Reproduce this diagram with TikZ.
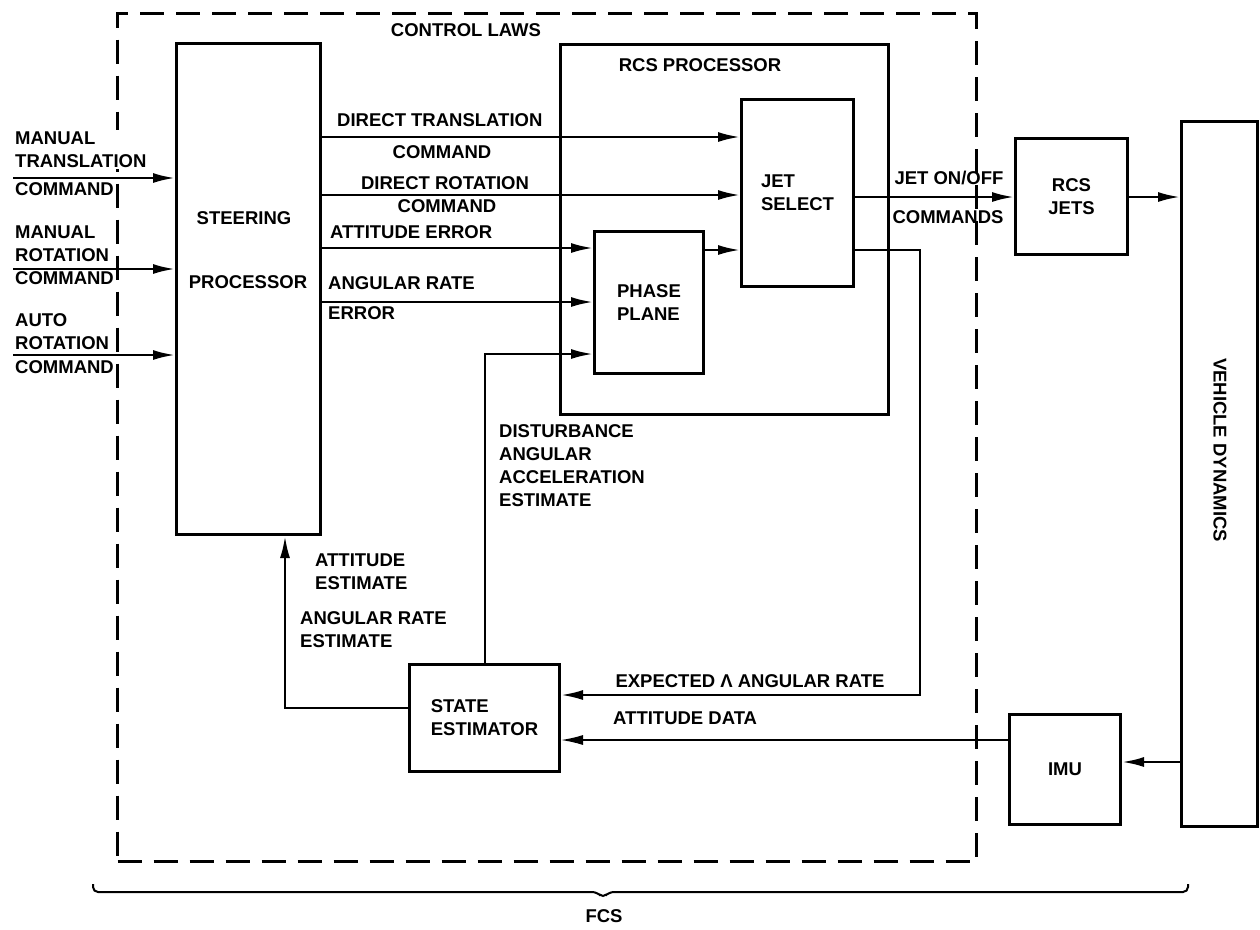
\documentclass[tikz,border=0pt]{standalone}
\usepackage{fontspec}
\setmainfont{Liberation Sans}
\usetikzlibrary{arrows.meta}
\begin{document}
\begin{tikzpicture}[x=1pt,y=-1pt,
  every node/.style={font=\fontsize{18.5}{23}\selectfont\bfseries},
  box/.style={draw,line width=3pt,inner sep=0pt,anchor=north west,align=center},
  lbl/.style={inner sep=0pt,align=left},
  wlbl/.style={inner sep=1.5pt,align=left,fill=white},
  arr/.style={line width=2.4pt,-{Latex[length=22pt,width=10pt]}},
  thinarr/.style={line width=1.5pt,-{Latex[length=22pt,width=10pt]}},
]
\useasboundingbox (0,0) rectangle (1260,929);

% control laws frame
\node[draw,line width=3pt,dash pattern=on 24pt off 12pt,inner sep=0pt,anchor=north west,
      minimum width=859pt,minimum height=848pt] (cl) at (116,12) {};

% blocks
\node[box,minimum width=144pt,minimum height=491pt] (steer) at (175,42) {};
\node[lbl] (steert1) at (244,218) {STEERING};
\node[lbl] (steert2) at (248,282) {PROCESSOR};
\node[box,minimum width=328pt,minimum height=370pt] (rcsp) at (559,43) {};
\node[lbl] (rcspt) at (700,65) {RCS PROCESSOR};
\node[lbl] (clt) at (466,30) {CONTROL LAWS};
\node[box,align=left,minimum width=112pt,minimum height=187pt] (jet) at (740,98) {JET\\SELECT};
\node[box,align=left,minimum width=109pt,minimum height=142pt] (pp) at (593,230) {PHASE\\PLANE};
\node[box,align=left,minimum width=150pt,minimum height=107pt] (se) at (408,663) {STATE\\ESTIMATOR};
\node[box,minimum width=112pt,minimum height=116pt] (jets) at (1014,137) {RCS\\JETS};
\node[box,minimum width=76pt,minimum height=705pt] (vd) at (1180,120) {};
\node[lbl,rotate=-90] (vdt) at (1220,450) {VEHICLE DYNAMICS};
\node[box,minimum width=111pt,minimum height=110pt] (imu) at (1008,713) {IMU};

% input commands
\coordinate (in1) at (13,178);
\coordinate (in2) at (13,269);
\coordinate (in3) at (13,355);
\node[wlbl,anchor=north west] (l1a) at (13.5,130) {MANUAL\\TRANSLATION};
\node[wlbl,anchor=west] (l1b) at (13.5,189) {COMMAND};
\node[wlbl,anchor=north west] (l2a) at (13.5,224) {MANUAL\\ROTATION};
\node[wlbl,anchor=west] (l2b) at (13.5,278) {COMMAND};
\node[wlbl,anchor=north west] (l3a) at (13.5,312) {AUTO\\ROTATION};
\node[wlbl,anchor=west] (l3b) at (13.5,367) {COMMAND};
\draw[arr] (in1) -- (in1 -| steer.west);
\draw[arr] (in2) -- (in2 -| steer.west);
\draw[arr] (in3) -- (in3 -| steer.west);

% y levels
\coordinate (ydt) at (0,137);
\coordinate (ydr) at (0,195);
\coordinate (yae) at (0,248);
\coordinate (yar) at (0,302);
\coordinate (yjo) at (0,197);
\coordinate (yex) at (0,250);
\coordinate (yad) at (0,740);
\coordinate (yimu) at (0,762);

% steering -> rcs processor
\draw[arr] (steer.east |- ydt) -- (jet.west |- ydt);
\node[lbl,anchor=west] (tdt) at (337,120) {DIRECT TRANSLATION};
\node[lbl] (tdtc) at (442,152) {COMMAND};
\draw[arr] (steer.east |- ydr) -- (jet.west |- ydr);
\node[lbl] (tdr) at (445,183) {DIRECT ROTATION};
\node[lbl] (tdrc) at (447,206) {COMMAND};
\draw[arr] (steer.east |- yae) -- (pp.west |- yae);
\node[lbl,anchor=west] (tae) at (330,232) {ATTITUDE ERROR};
\draw[arr] (steer.east |- yar) -- (pp.west |- yar);
\node[lbl,anchor=west] (tar) at (328,283) {ANGULAR RATE};
\node[lbl,anchor=west] (tare) at (328,313) {ERROR};

% phase plane -> jet select
\draw[arr] (pp.east |- yex) -- (jet.west |- yex);

% jet select -> rcs jets -> vehicle dynamics
\draw[arr] (jet.east |- yjo) -- (jets.west |- yjo);
\node[lbl] (tjo) at (949,178) {JET ON/OFF};
\node[lbl] (tjoc) at (948,217) {COMMANDS};
\draw[arr] (jets.east |- yjo) -- (vd.west |- yjo);

% vehicle dynamics -> IMU -> state estimator
\draw[arr] (vd.west |- yimu) -- (imu.east |- yimu);
\draw[thinarr] (imu.west |- yad) -- (se.east |- yad);
\node[lbl,anchor=west] (tad) at (613,718) {ATTITUDE DATA};

% expected delta angular rate
\coordinate (ex1) at (920,250);
\coordinate (ex2) at (920,695);
\draw[arr] (jet.east |- ex1) -- (ex1) -- (ex2) -- (se.east |- ex2);
\node[lbl] (tex) at (750,681) {EXPECTED Λ ANGULAR RATE};

% disturbance estimate
\coordinate (di1) at (485,354);
\draw[arr] (di1 |- se.north) -- (di1) -- (pp.west |- di1);
\node[lbl,anchor=north west] (tdi) at (499,424) {DISTURBANCE\\ANGULAR\\ACCELERATION\\ESTIMATE};

% state estimator -> steering
\coordinate (st1) at (285,708);
\draw[arr] (se.west |- st1) -- (st1) -- (st1 |- steer.south);
\node[lbl,anchor=north west] (tat) at (315,554) {ATTITUDE\\ESTIMATE};
\node[lbl,anchor=north west] (tan) at (300,611) {ANGULAR RATE\\ESTIMATE};

% FCS brace
\draw[line width=2pt,rounded corners=5pt] (93,884) -- (93,892) -- (597,892) -- (603,898) -- (609,892) -- (1188,892) -- (1188,884);
\node[lbl] (fcs) at (604,916) {FCS};
\end{tikzpicture}
\end{document}
